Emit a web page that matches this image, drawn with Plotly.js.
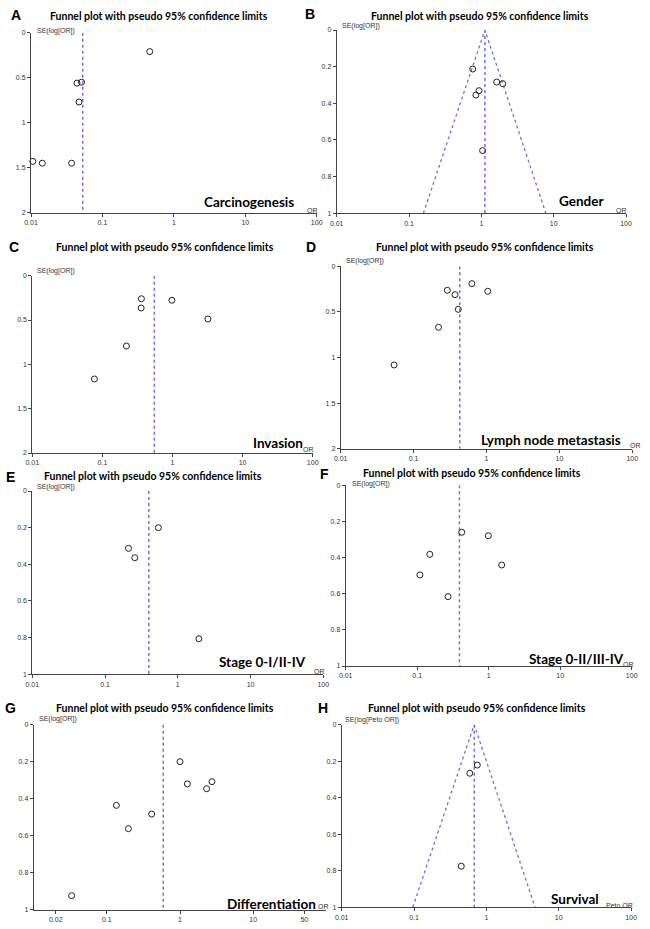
<!DOCTYPE html>
<html><head><meta charset="utf-8">
<script src="https://cdn.plot.ly/plotly-3.0.1.min.js"></script>
<style>html,body{margin:0;padding:0;background:#fff}</style>
</head><body><div id="chart" style="width:650px;height:929px"></div>
<script>
// ---- Data ----
const panelLetters = ["A","B","C","D","E","F","G","H"];
const panelLabels = ["Carcinogenesis","Gender","Invasion","Lymph node metastasis","Stage 0-I/II-IV","Stage 0-II/III-IV","Differentiation","Survival"];
const plotTitle = "Funnel plot with pseudo 95% confidence limits";

const orA = [0.46, 0.044, 0.051, 0.047, 0.0106, 0.0144, 0.037];
const seA = [0.21, 0.56, 0.55, 0.77, 1.43, 1.45, 1.45];
const pooledA = 0.053;

const orB = [0.76, 0.93, 0.84, 1.63, 1.98, 1.04];
const seB = [0.213, 0.331, 0.355, 0.284, 0.293, 0.658];
const pooledB = 1.12;
const funnelB_or = [0.158, 1.12, 7.8];
const funnelB_se = [1, 0, 1];

const orC = [0.36, 0.357, 0.98, 3.2, 0.22, 0.077];
const seC = [0.26, 0.364, 0.277, 0.488, 0.793, 1.165];
const pooledC = 0.55;

const orD = [0.63, 0.29, 0.37, 1.04, 0.41, 0.22, 0.054];
const seD = [0.19, 0.263, 0.311, 0.274, 0.472, 0.669, 1.082];
const pooledD = 0.43;

const orE = [0.54, 0.21, 0.256, 1.95];
const seE = [0.2, 0.313, 0.364, 0.806];
const pooledE = 0.40;

const orF = [0.42, 0.99, 0.15, 1.52, 0.109, 0.27];
const seF = [0.26, 0.279, 0.382, 0.441, 0.496, 0.616];
const pooledF = 0.39;

const orG = [1.0, 1.26, 2.73, 2.31, 0.135, 0.41, 0.197, 0.033];
const seG = [0.2, 0.32, 0.308, 0.346, 0.436, 0.483, 0.562, 0.924];
const pooledG = 0.59;

const orH = [0.75, 0.59, 0.45];
const seH = [0.221, 0.266, 0.775];
const pooledH = 0.68;
const funnelH_or = [0.096, 0.68, 4.72];
const funnelH_se = [1, 0, 1];

const seMax = [2, 1, 2, 2, 1, 1, 1, 1];
const yTicks2 = [0, 0.5, 1, 1.5, 2];
const yTicks1 = [0, 0.2, 0.4, 0.6, 0.8, 1];
const xTicksStd = [0.01, 0.1, 1, 10, 100];
const xTicksG = [0.02, 0.1, 1, 10, 50];
const yTitles = ["SE(log[OR])","SE(log[OR])","SE(log[OR])","SE(log[OR])","SE(log[OR])","SE(log[OR])","SE(log[OR])","SE(log[Peto OR])"];
const xTitles = ["OR","OR","OR","OR","OR","OR","OR","Peto OR"];

// ---- Layout geometry (pixels) ----
const W = 650, H = 929;
const boxes = [
  [31, 316.7, 32.7, 212.7],
  [336.7, 626, 30, 213.3],
  [32.3, 312.7, 275.7, 453],
  [340.7, 632.3, 266.3, 448.7],
  [32.3, 323.3, 491, 674.3],
  [345.7, 631.7, 485.3, 666],
  [33.7, 326.3, 724.7, 909.7],
  [341.7, 631, 724.7, 907.3]
];
const titlePos = [[159,16],[480,16],[165,247],[485,247],[153,476],[472,473],[165,708],[477,708]];
const letterPos = [[9,15],[303,14],[7,247],[304,247],[4,477],[318,474],[3,708],[316,708]];
const labelPos = [[249,202],[581,201],[278,443],[551,440],[262,662],[576,659],[271,904],[575,899]];
const xTitlePos = [[312,210],[621,210],[308,449],[635,445],[319,671],[628,664],[323,906],[619,905]];
const yTitlePos = [[35,31],[340,26],[35,271],[344,261],[35,487],[350,484],[37,719],[343,720]];

const ors = [orA, orB, orC, orD, orE, orF, orG, orH];
const ses = [seA, seB, seC, seD, seE, seF, seG, seH];
const pooled = [pooledA, pooledB, pooledC, pooledD, pooledE, pooledF, pooledG, pooledH];
const funnels = {1: [funnelB_or, funnelB_se], 7: [funnelH_or, funnelH_se]};

const dashCol = "#6f6fe8";
const axCol = "#444";
const traces = [];
const layout = {
  width: W, height: H, autosize: false,
  margin: {l: 0, r: 0, t: 0, b: 0},
  paper_bgcolor: "#fff", plot_bgcolor: "rgba(0,0,0,0)",
  showlegend: false,
  annotations: []
};

for (let i = 0; i < 8; i++) {
  const s = i === 0 ? "" : String(i + 1);
  const xa = "x" + s, ya = "y" + s;
  const [x0, x1, y0, y1] = boxes[i];
  const xt = i === 6 ? xTicksG : xTicksStd;
  const yt = seMax[i] === 2 ? yTicks2 : yTicks1;
  layout["xaxis" + s] = {
    type: "log", range: [-2, 2], domain: [x0 / W, x1 / W], anchor: ya,
    showline: true, linecolor: axCol, linewidth: 1, mirror: false,
    showgrid: false, zeroline: false,
    ticks: "outside", ticklen: 3, tickcolor: axCol, tickwidth: 1,
    tickvals: xt, ticktext: xt.map(String),
    tickfont: {family: "Liberation Sans, Arial, sans-serif", size: 7, color: "#333"},
    fixedrange: true
  };
  layout["yaxis" + s] = {
    range: [seMax[i], 0], domain: [1 - y1 / H, 1 - y0 / H], anchor: xa,
    showline: true, linecolor: axCol, linewidth: 1, mirror: false,
    showgrid: false, zeroline: false,
    ticks: "outside", ticklen: 3, tickcolor: axCol, tickwidth: 1,
    tickvals: yt, ticktext: yt.map(String),
    tickfont: {family: "Liberation Sans, Arial, sans-serif", size: 7, color: "#333"},
    fixedrange: true
  };
  traces.push({
    x: [pooled[i], pooled[i]], y: [0, seMax[i]], xaxis: xa, yaxis: ya,
    mode: "lines", line: {color: dashCol, width: 1.5, dash: "dot"}, hoverinfo: "skip"
  });
  if (funnels[i]) {
    traces.push({
      x: funnels[i][0], y: funnels[i][1], xaxis: xa, yaxis: ya,
      mode: "lines", line: {color: dashCol, width: 1.3, dash: "dot"}, hoverinfo: "skip"
    });
  }
  traces.push({
    x: ors[i], y: ses[i], xaxis: xa, yaxis: ya, mode: "markers",
    marker: {symbol: "circle-open", size: 6, color: "#222", line: {width: 1, color: "#222"}},
    cliponaxis: false
  });

  layout.annotations.push({
    xref: "paper", yref: "paper", x: titlePos[i][0] / W, y: 1 - titlePos[i][1] / H,
    xanchor: "center", yanchor: "middle", showarrow: false, text: plotTitle,
    font: {family: "Lato, Open Sans, sans-serif", size: 10.5, color: "#000", weight: 700}
  });
  layout.annotations.push({
    xref: "paper", yref: "paper", x: letterPos[i][0] / W, y: 1 - letterPos[i][1] / H,
    xanchor: "left", yanchor: "middle", showarrow: false, text: "<b>" + panelLetters[i] + "</b>",
    font: {family: "Liberation Sans, Arial, sans-serif", size: 14, color: "#000"}
  });
  layout.annotations.push({
    xref: "paper", yref: "paper", x: labelPos[i][0] / W, y: 1 - labelPos[i][1] / H,
    xanchor: "center", yanchor: "middle", showarrow: false, text: panelLabels[i],
    font: {family: "Lato, Open Sans, sans-serif", size: 13.5, color: "#000", weight: 700}
  });
  layout.annotations.push({
    xref: "paper", yref: "paper", x: xTitlePos[i][0] / W, y: 1 - xTitlePos[i][1] / H,
    xanchor: "center", yanchor: "middle", showarrow: false, text: xTitles[i],
    font: {family: "Liberation Sans, Arial, sans-serif", size: 7, color: "#333"}
  });
  layout.annotations.push({
    xref: "paper", yref: "paper", x: yTitlePos[i][0] / W, y: 1 - yTitlePos[i][1] / H,
    xanchor: "left", yanchor: "middle", showarrow: false, text: yTitles[i],
    font: {family: "Liberation Sans, Arial, sans-serif", size: 7, color: "#333"}
  });
}

Plotly.newPlot("chart", traces, layout, {staticPlot: true, displayModeBar: false});
</script>
</body></html>
